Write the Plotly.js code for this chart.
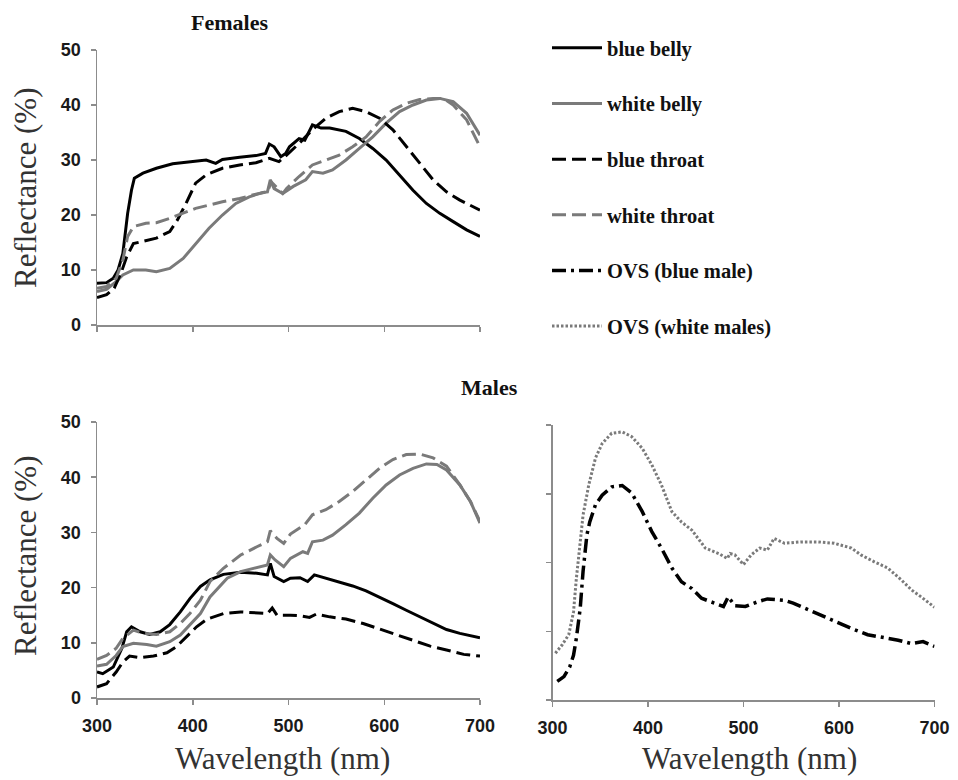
<!DOCTYPE html>
<html>
<head>
<meta charset="utf-8">
<script src="https://cdn.plot.ly/plotly-3.0.1.min.js"></script>
<style>html,body{margin:0;padding:0;background:#fff;}#chart{width:958px;height:780px;}</style>
</head>
<body>
<div id="chart"></div>
<script>
// ---------- Females ----------
const fBlueBellyWl = [300,310,317,322,327,332,336,339,348,362,379,397,414,424,431,449,466,476,480,485,492,497,501,511,517,525,534,543,560,574,588,602,616,630,644,658,672,686,700];
const fBlueBellyR  = [7.6,7.7,8.5,10,13,20.3,24.5,26.7,27.6,28.5,29.3,29.7,30,29.4,30.1,30.5,30.8,31.2,32.9,32.4,30.6,31.2,32.4,33.9,33.6,36.4,35.8,35.8,35.2,33.9,32.1,30,27.3,24.5,22.1,20.3,18.8,17.3,16.1];

const fWhiteBellyWl = [300,310,320,327,338,351,362,376,390,403,417,431,445,459,473,478,481,485,494,505,518,525,536,546,560,574,588,602,616,630,644,658,672,686,700];
const fWhiteBellyR  = [6.1,6.5,7.9,9.1,10,10,9.7,10.3,12.1,14.8,17.6,20,22.1,23.3,24.1,24.2,26.4,24.8,23.9,25.2,26.4,27.9,27.6,28.2,30,32.1,34.2,36.7,38.8,40,40.9,41.2,40.6,38.5,34.5];

const fBlueThroatWl = [300,310,318,325,331,338,348,362,376,384,393,403,414,431,449,466,480,490,498,511,525,539,553,567,581,595,609,623,637,651,665,679,700];
const fBlueThroatR  = [5,5.5,6.7,9.4,12.4,14.8,15.2,15.8,17,19.1,22.1,25.8,27.3,28.5,29.1,29.5,30.3,29.7,30.9,33,35.5,37.6,38.8,39.4,38.8,37.6,35.5,32.4,29.4,26.4,24.2,22.7,20.9];

const fWhiteThroatWl = [300,310,320,327,332,338,351,362,376,390,403,417,431,449,466,478,482,494,498,511,525,539,553,567,581,595,609,623,637,651,662,672,686,700];
const fWhiteThroatR  = [6.7,7,8.5,11.8,16.1,17.9,18.5,18.6,19.4,20.3,21.2,21.8,22.4,23,23.8,24.2,26,23.9,24.8,27,29.1,30,30.9,32.4,34.2,37,39.1,40.3,41,41.2,41.2,40,37.3,32.4];

// ---------- Males ----------
const mBlueBellyWl = [300,306,317,326,331,336,345,355,366,376,387,397,408,418,432,450,467,478,481,485,495,502,512,520,527,539,553,567,581,595,609,623,637,651,665,679,700];
const mBlueBellyR  = [4.7,4.4,5.6,9,12,12.9,12,11.5,12,13.3,15.6,18,20.2,21.4,22.4,22.8,22.6,22.3,24.4,22,21.1,21.7,21.8,21.1,22.3,21.7,21.1,20.3,19.4,18.3,17.1,15.9,14.7,13.5,12.4,11.7,10.9];

const mWhiteBellyWl = [300,310,320,327,338,352,362,376,387,397,408,418,425,436,450,467,478,481,486,495,502,515,520,525,536,546,560,574,588,602,616,630,644,655,665,679,690,700];
const mWhiteBellyR  = [5.8,6.1,7.7,9.3,9.9,9.7,9.4,10.2,11.4,13.2,15.3,18.3,19.6,21.7,22.9,23.6,24.1,25.9,25,23.8,25.3,26.5,26.2,28.3,28.6,29.5,31.4,33.5,36.2,38.6,40.4,41.6,42.4,42.3,41.3,38.6,35.6,31.7];

const mBlueThroatWl = [300,310,320,327,334,345,359,373,383,394,404,415,432,450,467,478,483,488,502,512,522,529,543,560,578,595,613,630,648,665,683,700];
const mBlueThroatR  = [2,2.6,4.7,6.5,7.6,7.3,7.6,8.2,9.3,11.1,12.9,14.3,15.3,15.6,15.5,15.3,16.3,15,15,14.9,14.6,15.2,14.7,14.3,13.5,12.5,11.4,10.4,9.4,8.7,7.9,7.6];

const mWhiteThroatWl = [300,310,320,327,338,348,362,376,387,397,408,418,432,450,467,478,481,488,495,502,517,525,539,553,567,581,595,609,623,637,651,665,679,690,700];
const mWhiteThroatR  = [7,7.7,9,10.8,12.3,11.7,11.5,12,13.5,15.3,17.7,21.1,23.5,25.9,27.4,28.3,30.3,28.9,28,29.7,31.4,33.2,34.1,35.6,37.4,39.5,41.6,43.2,44.1,44.2,43.5,42,38.6,35.6,32];

// ---------- OVS (unlabelled y scale, in tick units) ----------
const ovsBlueWl = [305,312,318,322,325,329,332,336,339,345,352,362,373,383,394,404,414,425,435,446,456,470,479,484,491,502,515,525,543,552,560,578,595,613,630,648,662,676,688,700];
const ovsBlueR  = [0.27,0.34,0.48,0.65,0.90,1.33,1.87,2.40,2.59,2.84,2.98,3.10,3.12,3.01,2.74,2.45,2.21,1.92,1.72,1.62,1.48,1.41,1.36,1.50,1.37,1.36,1.43,1.47,1.45,1.41,1.36,1.26,1.15,1.04,0.95,0.91,0.87,0.82,0.85,0.78];

const ovsWhiteWl = [303,310,317,322,325,329,332,338,345,352,362,373,383,394,404,414,425,435,446,460,474,483,486,491,500,508,517,525,532,543,560,578,595,613,623,637,651,665,676,686,697,700];
const ovsWhiteR  = [0.68,0.80,0.95,1.28,1.77,2.25,2.69,3.13,3.52,3.73,3.88,3.90,3.83,3.66,3.42,3.13,2.74,2.59,2.47,2.21,2.13,2.06,2.13,2.11,1.97,2.11,2.21,2.18,2.35,2.28,2.30,2.30,2.28,2.21,2.11,2.01,1.92,1.75,1.60,1.50,1.38,1.35];

const xTicks = [300,400,500,600,700];
const yTicks = [0,10,20,30,40,50];

const BLACK = '#000000';
const GRAY = '#7a7a7a';
const DASH = '14px,6px';

function tr(x, y, name, color, dash, width, xa, ya, show, group) {
  return {x: x, y: y, name: name, type: 'scatter', mode: 'lines',
    line: {color: color, dash: dash, width: width, shape: 'linear'},
    xaxis: xa, yaxis: ya, showlegend: show, legendgroup: group, hoverinfo: 'skip'};
}

const data = [
  tr(fBlueBellyWl, fBlueBellyR, 'blue belly', BLACK, 'solid', 3, 'x', 'y', true, 'g1'),
  tr(fWhiteBellyWl, fWhiteBellyR, 'white belly', GRAY, 'solid', 3, 'x', 'y', true, 'g2'),
  tr(fBlueThroatWl, fBlueThroatR, 'blue throat', BLACK, DASH, 3, 'x', 'y', true, 'g3'),
  tr(fWhiteThroatWl, fWhiteThroatR, 'white throat', GRAY, DASH, 3, 'x', 'y', true, 'g4'),
  tr(mBlueBellyWl, mBlueBellyR, 'blue belly', BLACK, 'solid', 3, 'x2', 'y2', false, 'g1'),
  tr(mWhiteBellyWl, mWhiteBellyR, 'white belly', GRAY, 'solid', 3, 'x2', 'y2', false, 'g2'),
  tr(mBlueThroatWl, mBlueThroatR, 'blue throat', BLACK, DASH, 3, 'x2', 'y2', false, 'g3'),
  tr(mWhiteThroatWl, mWhiteThroatR, 'white throat', GRAY, DASH, 3, 'x2', 'y2', false, 'g4'),
  tr(ovsBlueWl, ovsBlueR, 'OVS (blue male)', BLACK, '14px,5px,3px,5px', 3.5, 'x3', 'y3', true, 'g5'),
  tr(ovsWhiteWl, ovsWhiteR, 'OVS (white males)', GRAY, '2.5px,2px', 3, 'x3', 'y3', true, 'g6')
];

const tickFont = {family: 'Liberation Sans, Arial, sans-serif', size: 18, weight: 'bold', color: '#1a1a1a'};
function xax(domain, labels) {
  return {domain: domain, range: [300, 700], tickvals: xTicks, ticktext: xTicks.map(String),
    showticklabels: labels, ticks: 'outside', ticklen: 5, tickwidth: 1.5, tickcolor: '#8c8c8c',
    showline: true, linecolor: '#8c8c8c', linewidth: 1.5, showgrid: false, zeroline: false,
    tickfont: tickFont, ticklabelstandoff: 6, fixedrange: true};
}
function yax(domain, labels, range, vals, anchor) {
  return {domain: domain, range: range, tickvals: vals, showticklabels: labels, anchor: anchor,
    ticks: 'outside', ticklen: 5, tickwidth: 1.5, tickcolor: '#8c8c8c',
    showline: true, linecolor: '#8c8c8c', linewidth: 1.5, showgrid: false, zeroline: false,
    tickfont: tickFont, ticklabelstandoff: 6, fixedrange: true};
}

const W = 958, H = 780;
const px = v => v / W, py = v => 1 - v / H;
const serif = 'Liberation Serif, Times New Roman, serif';

const layout = {
  width: W, height: H,
  margin: {l: 0, r: 0, t: 0, b: 0},
  paper_bgcolor: '#ffffff', plot_bgcolor: 'rgba(0,0,0,0)',
  xaxis: Object.assign(xax([px(97), px(480)], false), {anchor: 'y'}),
  yaxis: yax([py(325), py(50)], true, [0, 50], yTicks, 'x'),
  xaxis2: Object.assign(xax([px(97), px(480)], true), {anchor: 'y2'}),
  yaxis2: yax([py(698), py(422)], true, [0, 50], yTicks, 'x2'),
  xaxis3: Object.assign(xax([px(552.5), px(934.5)], true), {anchor: 'y3'}),
  yaxis3: yax([py(700), py(425)], false, [0, 4], [0, 1, 2, 3, 4], 'x3'),
  showlegend: true,
  legend: {x: px(547), y: py(28), xanchor: 'left', yanchor: 'top',
    traceorder: 'grouped', tracegroupgap: 26, itemwidth: 50,
    font: {family: serif, size: 20.5, weight: 'bold', color: '#111'},
    bgcolor: 'rgba(0,0,0,0)', borderwidth: 0, itemclick: false, itemdoubleclick: false},
  annotations: [
    {text: 'Females', x: px(229), y: py(22), xref: 'paper', yref: 'paper', showarrow: false,
     xanchor: 'center', yanchor: 'middle', font: {family: serif, size: 22, weight: 'bold', color: '#111'}},
    {text: 'Males', x: px(489), y: py(387), xref: 'paper', yref: 'paper', showarrow: false,
     xanchor: 'center', yanchor: 'middle', font: {family: serif, size: 22, weight: 'bold', color: '#111'}},
    {text: 'Reflectance (%)', x: px(25), y: py(188), xref: 'paper', yref: 'paper', showarrow: false,
     textangle: -90, xanchor: 'center', yanchor: 'middle', font: {family: serif, size: 31, color: '#333'}},
    {text: 'Reflectance (%)', x: px(25), y: py(556), xref: 'paper', yref: 'paper', showarrow: false,
     textangle: -90, xanchor: 'center', yanchor: 'middle', font: {family: serif, size: 31, color: '#333'}},
    {text: 'Wavelength (nm)', x: px(282), y: py(758), xref: 'paper', yref: 'paper', showarrow: false,
     xanchor: 'center', yanchor: 'middle', font: {family: serif, size: 31, color: '#333'}},
    {text: 'Wavelength (nm)', x: px(749), y: py(758), xref: 'paper', yref: 'paper', showarrow: false,
     xanchor: 'center', yanchor: 'middle', font: {family: serif, size: 31, color: '#333'}}
  ]
};

Plotly.newPlot('chart', data, layout, {staticPlot: true, displayModeBar: false});
</script>
</body>
</html>
